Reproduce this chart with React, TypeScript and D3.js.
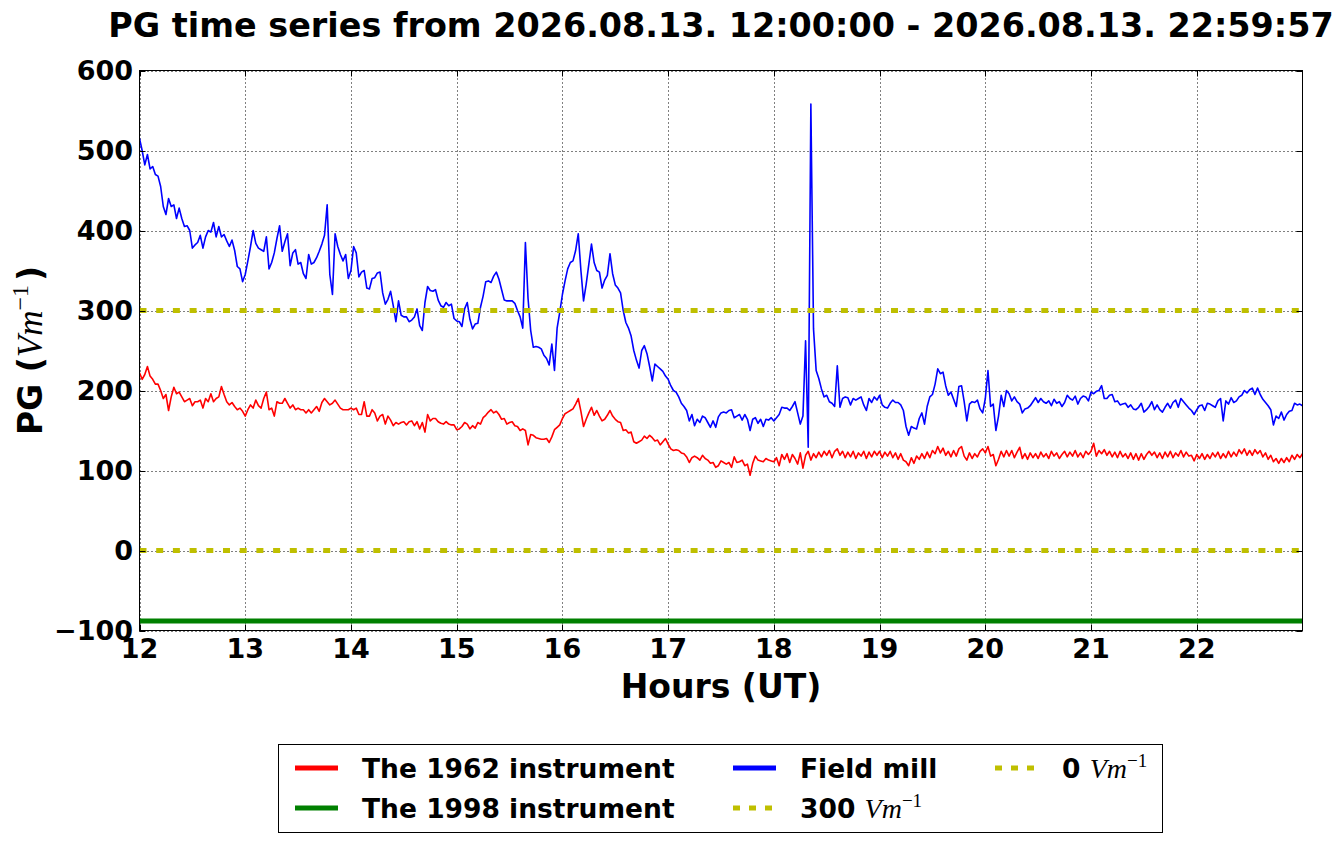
import React, { useRef, useEffect } from 'react';
import * as d3 from 'd3';

// both records are sampled every 1.5 minutes starting at 12:00 UT
const startHour = 12;
const stepHours = 0.025;

// Field mill PG (V/m), one row per hour
const fieldMill: number[] = [
  515, 500, 482, 495, 477, 480, 470, 468, 455, 430, 420, 440, 430, 432, 415, 428, 415, 405, 406, 400, 378, 382, 385, 394, 378, 392, 400, 398, 410, 392, 405, 392, 395, 387, 380, 388, 375, 355, 352, 336,
  345, 362, 380, 400, 384, 378, 376, 374, 392, 352, 360, 372, 390, 406, 374, 386, 396, 356, 372, 376, 358, 360, 346, 340, 370, 358, 360, 366, 374, 383, 394, 432, 345, 320, 396, 380, 370, 362, 370, 340,
  350, 380, 372, 342, 348, 350, 328, 327, 340, 341, 347, 348, 322, 308, 314, 324, 306, 286, 312, 294, 292, 292, 286, 288, 292, 302, 281, 275, 310, 330, 325, 324, 326, 313, 306, 304, 310, 306, 308, 290,
  287, 286, 280, 302, 310, 289, 277, 283, 284, 304, 318, 336, 337, 335, 343, 348, 339, 326, 313, 312, 312, 312, 309, 300, 292, 278, 385, 315, 275, 254, 255, 254, 252, 244, 240, 232, 258, 225, 278, 298,
  320, 337, 352, 360, 362, 375, 396, 350, 312, 333, 358, 383, 360, 350, 348, 328, 338, 344, 371, 346, 332, 328, 322, 300, 285, 278, 268, 250, 238, 228, 250, 256, 246, 230, 212, 233, 230, 227, 224, 218,
  214, 206, 200, 198, 192, 184, 180, 175, 162, 170, 156, 164, 160, 168, 166, 160, 154, 162, 154, 167, 172, 173, 172, 175, 176, 166, 168, 170, 163, 170, 164, 150, 164, 166, 159, 164, 155, 164, 163, 166,
  162, 166, 170, 179, 178, 178, 175, 180, 186, 172, 158, 168, 262, 129, 558, 277, 225, 215, 202, 192, 194, 186, 184, 180, 231, 179, 190, 192, 191, 182, 190, 188, 190, 192, 182, 175, 190, 185, 192, 188,
  194, 182, 179, 178, 184, 188, 185, 185, 182, 175, 155, 144, 155, 153, 152, 165, 172, 158, 180, 192, 195, 208, 227, 221, 223, 206, 194, 198, 189, 180, 205, 206, 186, 162, 183, 186, 185, 188, 177, 172,
  190, 225, 180, 183, 150, 168, 194, 180, 200, 196, 187, 192, 186, 183, 172, 177, 178, 181, 186, 191, 185, 190, 186, 184, 187, 181, 189, 184, 186, 180, 185, 194, 190, 188, 193, 183, 190, 193, 192, 187,
  198, 196, 199, 200, 206, 190, 190, 194, 195, 186, 187, 182, 183, 184, 179, 182, 177, 176, 179, 184, 173, 176, 180, 186, 176, 182, 176, 173, 179, 184, 178, 185, 188, 179, 190, 186, 182, 178, 175, 170,
  176, 181, 182, 175, 184, 183, 181, 179, 187, 190, 162, 187, 183, 191, 185, 187, 192, 194, 200, 197, 201, 203, 195, 203, 195, 189, 185, 181, 176, 157, 168, 165, 173, 163, 170, 174, 175, 184, 182, 183, 181,
];

// The 1962 instrument PG (V/m)
const instrument1962: number[] = [
  222, 214, 220, 230, 218, 214, 208, 208, 200, 190, 195, 175, 192, 204, 196, 198, 192, 186, 188, 190, 181, 186, 186, 188, 178, 190, 186, 196, 186, 190, 192, 205, 195, 186, 182, 185, 180, 176, 178, 174,
  168, 176, 182, 178, 188, 181, 178, 190, 198, 176, 178, 168, 186, 184, 184, 190, 184, 178, 182, 176, 178, 176, 176, 172, 176, 172, 176, 180, 174, 185, 190, 186, 182, 184, 188, 183, 178, 176, 176, 176,
  178, 176, 178, 170, 170, 186, 168, 168, 176, 172, 162, 168, 170, 158, 168, 163, 156, 160, 158, 160, 161, 157, 161, 162, 156, 161, 152, 160, 148, 170, 162, 165, 165, 161, 159, 158, 161, 158, 157, 157,
  151, 152, 155, 160, 158, 152, 156, 153, 160, 158, 166, 169, 173, 176, 172, 174, 170, 164, 165, 158, 160, 161, 156, 155, 150, 152, 150, 132, 145, 144, 141, 140, 139, 139, 140, 135, 142, 151, 154, 157,
  165, 171, 173, 175, 177, 183, 190, 174, 155, 164, 172, 179, 169, 175, 168, 162, 164, 169, 175, 168, 164, 161, 160, 150, 151, 147, 148, 136, 134, 136, 138, 143, 140, 144, 141, 137, 138, 132, 136, 140,
  133, 127, 125, 126, 125, 122, 121, 117, 110, 116, 118, 116, 113, 119, 115, 113, 109, 110, 104, 106, 112, 110, 108, 110, 104, 117, 110, 111, 113, 106, 108, 94, 109, 118, 113, 112, 111, 115, 113, 112,
  111, 116, 106, 120, 114, 121, 110, 120, 115, 108, 122, 103, 119, 124, 113, 121, 116, 123, 117, 124, 119, 125, 116, 124, 127, 119, 124, 116, 123, 117, 124, 115, 122, 118, 124, 115, 123, 117, 124, 119,
  124, 116, 123, 118, 124, 116, 122, 114, 121, 113, 111, 106, 116, 109, 118, 114, 121, 115, 123, 116, 125, 121, 130, 122, 128, 119, 124, 117, 125, 118, 127, 130, 118, 113, 122, 115, 121, 117, 124, 127,
  122, 130, 118, 120, 106, 114, 124, 117, 125, 118, 125, 116, 123, 129, 115, 121, 114, 122, 116, 121, 115, 123, 117, 121, 115, 124, 118, 122, 115, 120, 124, 117, 123, 118, 125, 117, 122, 116, 124, 120,
  124, 134, 118, 125, 121, 126, 119, 124, 117, 123, 116, 124, 117, 121, 115, 122, 114, 121, 113, 121, 114, 120, 124, 119, 123, 116, 122, 115, 123, 117, 124, 116, 122, 118, 125, 117, 123, 118, 119, 112,
  120, 115, 121, 114, 120, 115, 122, 117, 123, 115, 121, 116, 124, 117, 123, 118, 126, 121, 127, 119, 125, 119, 126, 121, 125, 117, 122, 114, 119, 111, 115, 109, 115, 110, 116, 111, 119, 114, 120, 116, 121,
];

// The 1998 instrument sits flat near the bottom of the axis
const instrument1998Hours = [12, 23];
const instrument1998: number[] = [-88, -88];

// dashed reference levels (V/m)
const referenceLevels = [300, 0];

const xTicks = [12, 13, 14, 15, 16, 17, 18, 19, 20, 21, 22];
const yTicks = [-100, 0, 100, 200, 300, 400, 500, 600];

const titleText = 'PG time series from 2026.08.13. 12:00:00 - 2026.08.13. 22:59:57';

const RED = '#ff0000';
const BLUE = '#0000ff';
const GREEN = '#008000';
const YELLOW = '#bfbf00';

const SANS = '"DejaVu Sans", sans-serif';
const SERIF = '"Liberation Serif", "DejaVu Serif", serif';

const PGChart: React.FC = () => {
  const svgRef = useRef<SVGSVGElement | null>(null);

  useEffect(() => {
    if (!svgRef.current) return;

    const width = 1341;
    const height = 844;
    const plot = { left: 139.5, right: 1302.5, top: 70.5, bottom: 630.5 };

    d3.select(svgRef.current).selectAll('*').remove();

    const svg = d3.select(svgRef.current)
      .attr('width', width)
      .attr('height', height);

    const xScale = d3.scaleLinear().domain([12, 23]).range([plot.left, plot.right]);
    const yScale = d3.scaleLinear().domain([-100, 600]).range([plot.bottom, plot.top]);

    svg.append('defs')
      .append('clipPath')
      .attr('id', 'plot-clip')
      .append('rect')
      .attr('x', plot.left)
      .attr('y', plot.top)
      .attr('width', plot.right - plot.left)
      .attr('height', plot.bottom - plot.top);

    svg.append('rect')
      .attr('width', width)
      .attr('height', height)
      .attr('fill', 'white');

    // Grid (black dotted)
    const grid = svg.append('g');
    grid.selectAll('.vgrid')
      .data(xTicks)
      .enter()
      .append('line')
      .attr('x1', d => Math.round(xScale(d)) + 0.5)
      .attr('x2', d => Math.round(xScale(d)) + 0.5)
      .attr('y1', plot.top)
      .attr('y2', plot.bottom)
      .attr('stroke', '#000')
      .attr('stroke-width', 1)
      .attr('stroke-dasharray', '1,3');
    grid.selectAll('.hgrid')
      .data(yTicks)
      .enter()
      .append('line')
      .attr('x1', plot.left)
      .attr('x2', plot.right)
      .attr('y1', d => Math.round(yScale(d)) + 0.5)
      .attr('y2', d => Math.round(yScale(d)) + 0.5)
      .attr('stroke', '#000')
      .attr('stroke-width', 1)
      .attr('stroke-dasharray', '1,3');

    const g = svg.append('g').attr('clip-path', 'url(#plot-clip)');

    const sampled = d3.line<number>()
      .x((_, i) => xScale(startHour + i * stepHours))
      .y(d => yScale(d));

    // The 1962 instrument
    g.append('path')
      .datum(instrument1962)
      .attr('fill', 'none')
      .attr('stroke', RED)
      .attr('stroke-width', 1.6)
      .attr('stroke-linejoin', 'round')
      .attr('d', sampled);

    // The 1998 instrument
    g.append('path')
      .datum(instrument1998)
      .attr('fill', 'none')
      .attr('stroke', GREEN)
      .attr('stroke-width', 5)
      .attr('d', d3.line<number>()
        .x((_, i) => xScale(instrument1998Hours[i]))
        .y(d => yScale(d)));

    // Field mill
    g.append('path')
      .datum(fieldMill)
      .attr('fill', 'none')
      .attr('stroke', BLUE)
      .attr('stroke-width', 1.6)
      .attr('stroke-linejoin', 'round')
      .attr('d', sampled);

    // 300 and 0 V/m levels
    g.selectAll('.level')
      .data(referenceLevels)
      .enter()
      .append('line')
      .attr('x1', plot.left)
      .attr('x2', plot.right)
      .attr('y1', d => yScale(d))
      .attr('y2', d => yScale(d))
      .attr('stroke', YELLOW)
      .attr('stroke-width', 5)
      .attr('stroke-dasharray', '7,9.7');

    // Frame
    svg.append('rect')
      .attr('x', plot.left)
      .attr('y', plot.top)
      .attr('width', plot.right - plot.left)
      .attr('height', plot.bottom - plot.top)
      .attr('fill', 'none')
      .attr('stroke', '#000')
      .attr('stroke-width', 1);

    // Inward ticks on all four sides
    const tickLen = 6;
    const ticks = svg.append('g').attr('stroke', '#000').attr('stroke-width', 1);
    xTicks.forEach(t => {
      const x = Math.round(xScale(t)) + 0.5;
      ticks.append('line').attr('x1', x).attr('x2', x).attr('y1', plot.bottom).attr('y2', plot.bottom - tickLen);
      ticks.append('line').attr('x1', x).attr('x2', x).attr('y1', plot.top).attr('y2', plot.top + tickLen);
    });
    yTicks.forEach(v => {
      const y = Math.round(yScale(v)) + 0.5;
      ticks.append('line').attr('x1', plot.left).attr('x2', plot.left + tickLen).attr('y1', y).attr('y2', y);
      ticks.append('line').attr('x1', plot.right).attr('x2', plot.right - tickLen).attr('y1', y).attr('y2', y);
    });

    // Tick labels
    svg.append('g')
      .selectAll('text')
      .data(xTicks)
      .enter()
      .append('text')
      .attr('x', d => xScale(d))
      .attr('y', 658)
      .attr('text-anchor', 'middle')
      .attr('font-family', SANS)
      .attr('font-weight', 'bold')
      .attr('font-size', '27px')
      .text(d => String(d));

    svg.append('g')
      .selectAll('text')
      .data(yTicks)
      .enter()
      .append('text')
      .attr('x', 133)
      .attr('y', d => yScale(d))
      .attr('dy', '0.36em')
      .attr('text-anchor', 'end')
      .attr('font-family', SANS)
      .attr('font-weight', 'bold')
      .attr('font-size', '27px')
      .text(d => (d < 0 ? '\u2212' + Math.abs(d) : String(d)));

    // Title
    svg.append('text')
      .attr('x', (plot.left + plot.right) / 2)
      .attr('y', 37)
      .attr('text-anchor', 'middle')
      .attr('font-family', SANS)
      .attr('font-weight', 'bold')
      .attr('font-size', '33.4px')
      .text(titleText);

    // X label
    svg.append('text')
      .attr('x', (plot.left + plot.right) / 2)
      .attr('y', 698)
      .attr('text-anchor', 'middle')
      .attr('font-family', SANS)
      .attr('font-weight', 'bold')
      .attr('font-size', '33px')
      .text('Hours (UT)');

    // Y label with math units
    const yLabel = svg.append('text')
      .attr('transform', `translate(42,${(plot.top + plot.bottom) / 2}) rotate(-90)`)
      .attr('text-anchor', 'middle')
      .attr('font-family', SANS)
      .attr('font-weight', 'bold')
      .attr('font-size', '33px');
    yLabel.append('tspan').text('PG (');
    yLabel.append('tspan')
      .attr('font-family', SERIF)
      .attr('font-style', 'italic')
      .attr('font-weight', 'normal')
      .attr('font-size', '35px')
      .text('Vm');
    yLabel.append('tspan')
      .attr('font-family', SERIF)
      .attr('font-weight', 'normal')
      .attr('font-size', '24px')
      .attr('dy', -14)
      .text('\u22121');
    yLabel.append('tspan')
      .attr('dy', 14)
      .attr('dx', 4)
      .text(')');

    // Legend
    const legendBox = { x: 278.5, y: 744.5, w: 884, h: 88 };
    svg.append('rect')
      .attr('x', legendBox.x)
      .attr('y', legendBox.y)
      .attr('width', legendBox.w)
      .attr('height', legendBox.h)
      .attr('fill', 'white')
      .attr('stroke', '#000')
      .attr('stroke-width', 1);

    const legendItems = [
      { label: 'The 1962 instrument', unit: false, color: RED, dashed: false, x: 295, y: 768 },
      { label: 'The 1998 instrument', unit: false, color: GREEN, dashed: false, x: 295, y: 808 },
      { label: 'Field mill', unit: false, color: BLUE, dashed: false, x: 733, y: 768 },
      { label: '300 ', unit: true, color: YELLOW, dashed: true, x: 733, y: 808 },
      { label: '0 ', unit: true, color: YELLOW, dashed: true, x: 995, y: 768 },
    ];

    legendItems.forEach(item => {
      svg.append('line')
        .attr('x1', item.x)
        .attr('x2', item.x + 43)
        .attr('y1', item.y)
        .attr('y2', item.y)
        .attr('stroke', item.color)
        .attr('stroke-width', 5)
        .attr('stroke-dasharray', item.dashed ? '7,9' : null);

      const txt = svg.append('text')
        .attr('x', item.x + 67)
        .attr('y', item.y + 9.5)
        .attr('font-family', SANS)
        .attr('font-weight', 'bold')
        .attr('font-size', '26.5px');
      txt.append('tspan').text(item.label);
      if (item.unit) {
        txt.append('tspan')
          .attr('font-family', SERIF)
          .attr('font-style', 'italic')
          .attr('font-weight', 'normal')
          .attr('font-size', '28px')
          .text('Vm');
        txt.append('tspan')
          .attr('font-family', SERIF)
          .attr('font-weight', 'normal')
          .attr('font-size', '19px')
          .attr('dy', -11)
          .text('\u22121');
      }
    });
  }, []);

  return <svg ref={svgRef} style={{ position: 'absolute', left: 0, top: 0, display: 'block' }} />;
};

export default function App() {
  return <PGChart />;
}
